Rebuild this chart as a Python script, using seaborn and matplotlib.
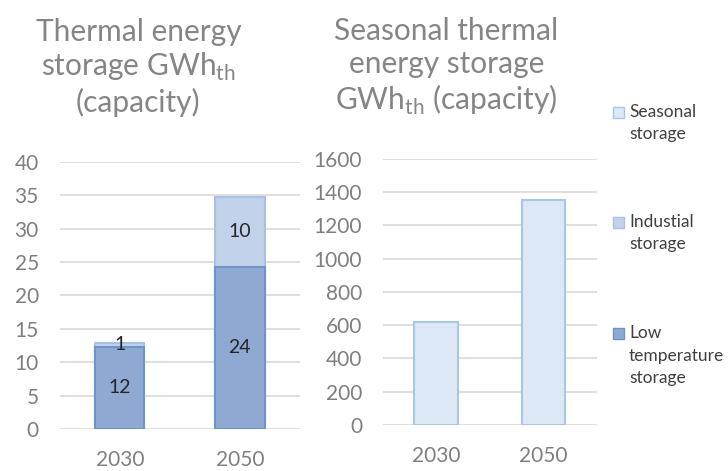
import matplotlib
matplotlib.use('Agg')
import matplotlib.pyplot as plt
import seaborn as sns
import pandas as pd
from matplotlib.patches import Rectangle

# данные
years = ['2030', '2050']
low_temp = [12.3, 24.3]
industrial = [0.6, 10.5]
seasonal = [620, 1350]
legend_labels = [['Seasonal', 'storage'], ['Industial', 'storage'],
                 ['Low', 'temperature', 'storage']]

c_low, c_ind, c_sea = '#8eaad3', '#c1d2ea', '#dde8f6'
e_low, e_ind, e_sea = '#6f93c8', '#a9c1e3', '#a6c6ea'
grey = '#7f7f7f'

sns.set_style('white')
plt.rcParams['font.family'] = ['Lato', 'DejaVu Sans']
plt.rcParams['mathtext.fontset'] = 'custom'
plt.rcParams['mathtext.rm'] = 'Lato'

fig = plt.figure(figsize=(7.28, 4.71), dpi=100)
ax1 = fig.add_axes([0.082, 0.0892, 0.33, 0.567])
ax2 = fig.add_axes([0.526, 0.0977, 0.294, 0.565])

df = pd.DataFrame({'year': years, 'low': low_temp, 'ind': industrial, 'sea': seasonal})
df['total'] = df['low'] + df['ind']

# левый график (stacked)
sns.barplot(data=df, x='year', y='total', color=c_ind, saturation=1, width=0.41,
            edgecolor=e_ind, linewidth=1.5, ax=ax1, zorder=3)
sns.barplot(data=df, x='year', y='low', color=c_low, saturation=1, width=0.41,
            edgecolor=e_low, linewidth=1.5, ax=ax1, zorder=4)
for i, r in df.iterrows():
    ax1.text(i, r['low'] / 2, f"{r['low']:.0f}", ha='center', va='center',
             fontsize=14, color='#262626', zorder=5)
    ax1.text(i, r['low'] + r['ind'] / 2, f"{r['ind']:.0f}",
             ha='center', va='center', fontsize=14, color='#262626', zorder=5)
ax1.set_ylim(0, 40)
ax1.set_yticks(range(0, 41, 5))

# правый график
sns.barplot(data=df, x='year', y='sea', color=c_sea, saturation=1, width=0.41,
            edgecolor=e_sea, linewidth=1.5, ax=ax2, zorder=3)
ax2.set_ylim(0, 1600)
ax2.set_yticks(range(0, 1601, 200))

for ax in (ax1, ax2):
    ax.set_xlim(-0.5, 1.5)
    ax.set_xlabel('')
    ax.set_ylabel('')
    ax.grid(axis='y', color='#d9d9d9', linewidth=1.2, zorder=0)
    ax.set_axisbelow(True)
    sns.despine(ax=ax, left=True, bottom=True)
    ax.tick_params(length=0, labelsize=15, labelcolor=grey, pad=15)

fig.text(0.190, 1 - 112 / 471, 'Thermal energy\nstorage GWh$_{\\mathrm{th}}$\n(capacity)',
         ha='center', va='baseline', fontsize=21.5, color='#858585', linespacing=1.2)
fig.text(0.613, 1 - 110 / 471, 'Seasonal thermal\nenergy storage\nGWh$_{\\mathrm{th}}$ (capacity)',
         ha='center', va='baseline', fontsize=21.5, color='#858585', linespacing=1.2)

# легенда
for lines, fc, ec, y in zip(legend_labels, [c_sea, c_ind, c_low], [e_sea, e_ind, e_low],
                            [112, 222, 333]):
    fig.add_artist(Rectangle((613 / 728, 1 - (y + 5.5) / 471), 11 / 728, 11 / 471,
                             facecolor=fc, edgecolor=ec, linewidth=1,
                             transform=fig.transFigure))
    for k, line in enumerate(lines):
        fig.text(629 / 728, 1 - (y + 5 + k * 22.5) / 471, line, ha='left', va='baseline',
                 fontsize=12.5, color='#404040')

plt.savefig('out.png', dpi=100)
